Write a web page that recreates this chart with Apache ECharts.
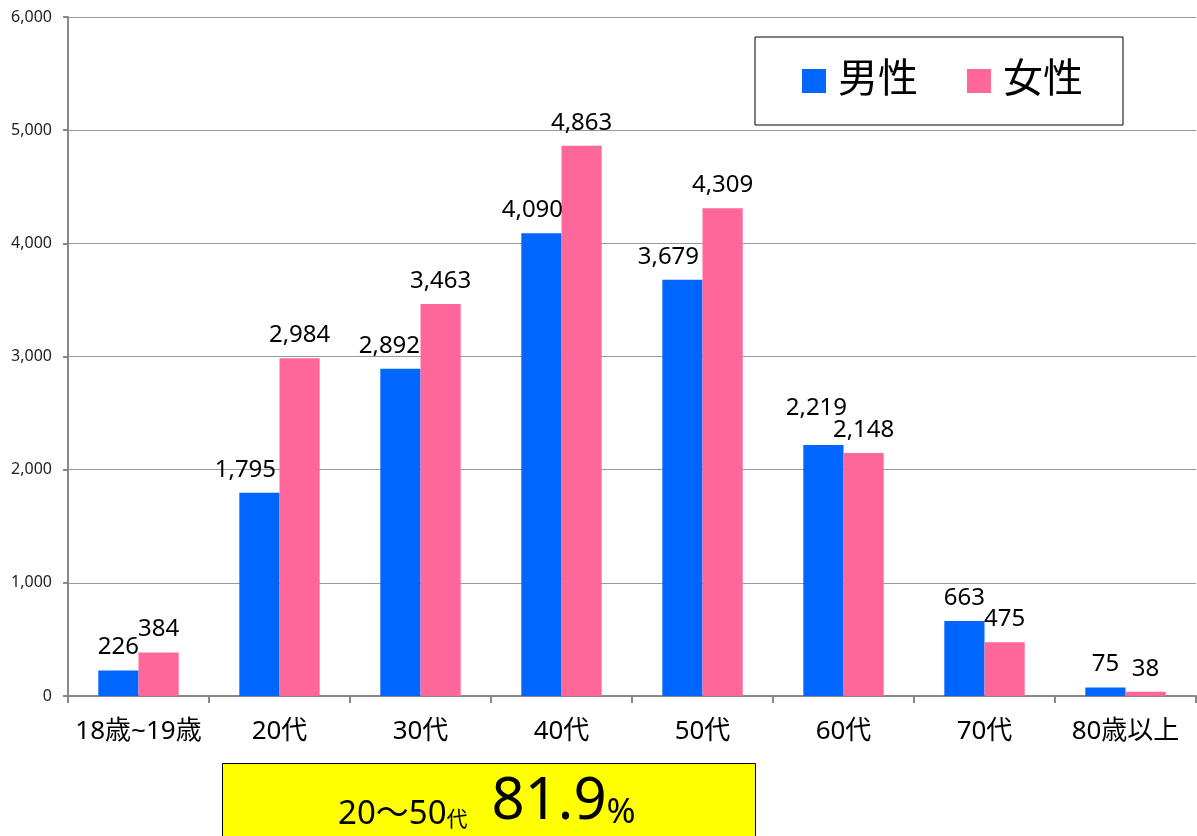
<!DOCTYPE html>
<html>
<head>
<meta charset="utf-8">
<script src="https://cdn.jsdelivr.net/npm/echarts@6/dist/echarts.min.js"></script>
<style>
html,body{margin:0;padding:0;background:#fff;}
#c{width:1197px;height:836px;}
</style>
</head>
<body>
<div id="c"></div>
<script>
const categories = ['18歳~19歳', '20代', '30代', '40代', '50代', '60代', '70代', '80歳以上'];
const male = [226, 1795, 2892, 4090, 3679, 2219, 663, 75];
const female = [384, 2984, 3463, 4863, 4309, 2148, 475, 38];
const seriesNames = ['男性', '女性'];
const yTicks = [0, 1000, 2000, 3000, 4000, 5000, 6000];
const noteRange = '20～50';
const noteUnit = '代';
const notePct = '81.9';

// label nudges (as in the original, where labels were moved to avoid overlaps)
const maleLabelOffsets = [[0, 0], [-14, 0], [-11, 0], [-9, 0], [-14, 0], [-7, -14], [0, 0], [0, 0]];

const FONT = '"Noto Sans", "Noto Sans CJK JP", sans-serif';
const chart = echarts.init(document.getElementById('c'));
const fmt = v => v.toLocaleString('en-US');

const labelStyle = { show: true, position: 'top', distance: 11, fontSize: 24, color: '#000', fontFamily: FONT, formatter: p => fmt(p.value) };

chart.setOption({
  animation: false,
  backgroundColor: '#fff',
  textStyle: { fontFamily: FONT },
  grid: { left: 68, right: 1, top: 17, bottom: 140, containLabel: false },
  legend: {
    data: seriesNames,
    left: 755, top: 37,
    orient: 'horizontal',
    itemWidth: 24, itemHeight: 24, itemGap: 49,
    icon: 'rect',
    borderColor: '#000', borderWidth: 1,
    padding: [21, 40, 21, 47],
    textStyle: { fontSize: 40, color: '#000', fontFamily: FONT, lineHeight: 46, padding: [0, 0, 0, 7] }
  },
  xAxis: {
    type: 'category',
    data: categories,
    axisLine: { lineStyle: { color: '#888', width: 2 } },
    axisTick: { show: true, length: 7, lineStyle: { color: '#888', width: 2 } },
    axisLabel: { fontSize: 26, color: '#000', margin: 23, interval: 0, fontFamily: FONT }
  },
  yAxis: {
    type: 'value',
    min: yTicks[0], max: yTicks[yTicks.length - 1], interval: 1000,
    axisLine: { show: true, lineStyle: { color: '#888', width: 2 } },
    axisTick: { show: true, length: 5, lineStyle: { color: '#888', width: 2 } },
    axisLabel: { fontSize: 16, color: '#222', margin: 16, formatter: v => fmt(v), fontFamily: FONT },
    splitLine: { lineStyle: { color: '#999', width: 1 } }
  },
  series: [
    {
      name: seriesNames[0], type: 'bar',
      data: male.map((v, i) => ({ value: v, label: { offset: maleLabelOffsets[i] } })),
      barGap: '0%', barCategoryGap: '43%',
      itemStyle: { color: '#0066FF' },
      label: labelStyle
    },
    {
      name: seriesNames[1], type: 'bar', data: female,
      barGap: '0%', barCategoryGap: '43%',
      itemStyle: { color: '#FF6699' },
      label: labelStyle
    }
  ],
  graphic: [
    {
      type: 'rect', left: 222, top: 763, z: 100,
      shape: { width: 533, height: 90 },
      style: { fill: '#FFFF00', stroke: '#000', lineWidth: 1 }
    },
    {
      type: 'text', left: 338, top: 773, z: 101,
      style: {
        text: '{a|' + noteRange + '}{u|' + noteUnit + '}{s| }{b|' + notePct + '}{p|%}',
        rich: {
          a: { fontSize: 33, fontFamily: FONT, fill: '#000', verticalAlign: 'bottom', lineHeight: 45 },
          u: { fontSize: 21, fontFamily: FONT, fill: '#000', verticalAlign: 'bottom', lineHeight: 30 },
          s: { fontSize: 22, fontFamily: FONT, fill: '#000', verticalAlign: 'bottom', lineHeight: 30, width: 24 },
          b: { fontSize: 58, fontFamily: FONT, fill: '#000', verticalAlign: 'bottom', lineHeight: 77 },
          p: { fontSize: 35, fontFamily: FONT, fill: '#000', verticalAlign: 'bottom', lineHeight: 47 }
        }
      }
    }
  ]
});
</script>
</body>
</html>
